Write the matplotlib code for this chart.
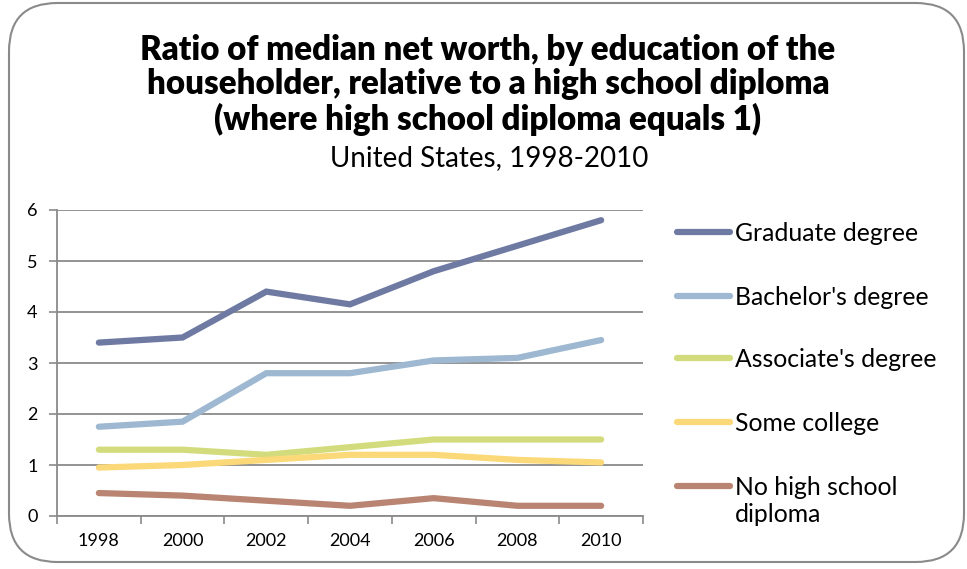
import matplotlib.pyplot as plt
from matplotlib.patches import FancyBboxPatch
from matplotlib.lines import Line2D

plt.rcParams['font.family'] = ['Lato', 'DejaVu Sans']

years = ['1998', '2000', '2002', '2004', '2006', '2008', '2010']
graduate = [3.4, 3.5, 4.4, 4.15, 4.8, 5.3, 5.8]
bachelor = [1.75, 1.85, 2.8, 2.8, 3.05, 3.1, 3.45]
associate = [1.3, 1.3, 1.2, 1.35, 1.5, 1.5, 1.5]
some_college = [0.95, 1.0, 1.1, 1.2, 1.2, 1.1, 1.05]
no_high_school = [0.45, 0.4, 0.3, 0.2, 0.35, 0.2, 0.2]

series = [
    ('Graduate degree', graduate, '#6f7aa3'),
    ("Bachelor's degree", bachelor, '#9db8d0'),
    ("Associate's degree", associate, '#d3dc7c'),
    ('Some college', some_college, '#fbd878'),
    ('No high school\ndiploma', no_high_school, '#b98472'),
]

W, H = 967, 569
fig = plt.figure(figsize=(W / 100, H / 100), dpi=100)

# rounded frame round the whole chart
frame = FancyBboxPatch((9 / W, 7 / H), 955 / W, 559 / H,
                       boxstyle='round,pad=0,rounding_size=0.05',
                       transform=fig.transFigure, fill=False,
                       edgecolor='#8a8a8a', linewidth=1.5,
                       mutation_aspect=W / H)
fig.patches.append(frame)

ax = fig.add_axes([57 / W, 1 - 516 / H, (643 - 57) / W, (516 - 210) / H])
x = list(range(len(years)))
for name, vals, color in series:
    ax.plot(x, vals, color=color, linewidth=4.5, solid_capstyle='round',
            solid_joinstyle='miter')

ax.set_xlim(-0.5, len(years) - 0.5)
ax.set_ylim(0, 6)
ax.set_yticks(range(7))
ax.set_yticklabels([str(i) for i in range(7)], fontsize=13)
ax.set_xticks(x)
ax.set_xticklabels(years, fontsize=13)
ax.tick_params(axis='x', length=0, pad=12)
ax.set_xticks([i - 0.5 for i in range(len(years) + 1)], minor=True)
ax.tick_params(axis='x', which='minor', length=6, color='#8a8a8a', width=1.2)
ax.tick_params(axis='y', length=6, color='#8a8a8a', width=1.2, pad=8)
ax.grid(axis='y', color='#8a8a8a', linewidth=1.3)
ax.set_axisbelow(True)
for s in ['top', 'right']:
    ax.spines[s].set_visible(False)
for s in ['left', 'bottom']:
    ax.spines[s].set_color('#8a8a8a')
    ax.spines[s].set_linewidth(1.3)

# titles
fig.text(488 / W, 1 - 85 / H,
         'Ratio of median net worth, by education of the\n'
         'householder, relative to a high school diploma\n'
         '(where high school diploma equals 1)',
         ha='center', va='center', fontsize=23.8, fontweight='heavy',
         linespacing=1.1)
fig.text(489 / W, 1 - 158 / H, 'United States, 1998-2010',
         ha='center', va='center', fontsize=20)

# legend drawn by hand so the handle sits on the first text line
legend_y = [232, 296, 358, 422, 486]
for (name, vals, color), ly in zip(series, legend_y):
    fy = 1 - ly / H
    fig.add_artist(Line2D([677 / W, 730 / W], [fy, fy], color=color,
                          linewidth=4.5, solid_capstyle='round',
                          transform=fig.transFigure))
    fig.text(735 / W, 1 - (ly - 10) / H, name, ha='left', va='top',
             fontsize=17.8, linespacing=1.2)

fig.savefig('out.png', dpi=100)
